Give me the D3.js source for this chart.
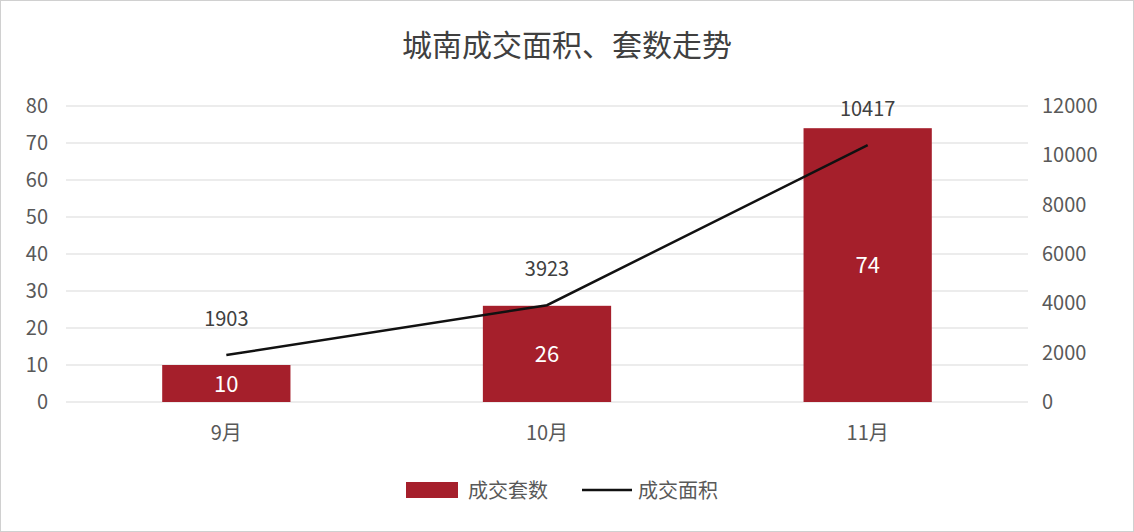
<!DOCTYPE html>
<html><head><meta charset="utf-8">
<script src="https://cdn.jsdelivr.net/npm/d3@7"></script>
<style>body{margin:0;background:#fff}text{font-family:"Noto Sans CJK SC","Noto Sans",sans-serif}</style>
</head><body><svg id="c" width="1134" height="532"></svg>
<script>
var months = ["9月", "10月", "11月"];
var counts = [10, 26, 74];
var areas = [1903, 3923, 10417];
var leftTicks = [0, 10, 20, 30, 40, 50, 60, 70, 80];
var rightTicks = [0, 2000, 4000, 6000, 8000, 10000, 12000];

var svg = d3.select("#c");
svg.append("rect").attr("x", 0.5).attr("y", 0.5).attr("width", 1133).attr("height", 531)
  .attr("fill", "#fff").attr("stroke", "#d0d0d0");

var x = d3.scaleBand().domain(months).range([66, 1028]).paddingInner(0.6).paddingOuter(0.3);
var yL = d3.scaleLinear().domain([0, 80]).range([402, 106]);
var yR = d3.scaleLinear().domain([0, 12000]).range([402, 106]);
var bar = "#a51f2b", txt = "#595959";

svg.append("text").attr("x", 567).attr("y", 56).attr("text-anchor", "middle")
  .attr("font-size", 30).attr("fill", "#404040").text("城南成交面积、套数走势");

svg.selectAll(".g").data(leftTicks).enter().append("line")
  .attr("x1", 66).attr("x2", 1028).attr("y1", yL).attr("y2", yL)
  .attr("stroke", "#d9d9d9");
svg.selectAll(".lt").data(leftTicks).enter().append("text")
  .attr("x", 48).attr("y", function(d){return yL(d) + 7;}).attr("text-anchor", "end")
  .attr("font-size", 20).attr("fill", txt).text(String);
svg.selectAll(".rt").data(rightTicks).enter().append("text")
  .attr("x", 1042).attr("y", function(d){return yR(d) + 7;})
  .attr("font-size", 20).attr("fill", txt).text(String);

svg.selectAll(".b").data(counts).enter().append("rect")
  .attr("x", function(d, i){return x(months[i]);}).attr("width", x.bandwidth())
  .attr("y", yL).attr("height", function(d){return yL(0) - yL(d);}).attr("fill", bar);
svg.selectAll(".bl").data(counts).enter().append("text")
  .attr("x", function(d, i){return x(months[i]) + x.bandwidth() / 2;})
  .attr("y", function(d){return (yL(d) + yL(0)) / 2 + 8;})
  .attr("text-anchor", "middle").attr("font-size", 22).attr("fill", "#fff").text(String);

svg.selectAll(".m").data(months).enter().append("text")
  .attr("x", function(d){return x(d) + x.bandwidth() / 2;}).attr("y", 440)
  .attr("text-anchor", "middle").attr("font-size", 20).attr("fill", txt).text(String);

var line = d3.line().x(function(d, i){return x(months[i]) + x.bandwidth() / 2;}).y(yR);
svg.append("path").datum(areas).attr("d", line).attr("fill", "none")
  .attr("stroke", "#111").attr("stroke-width", 2.5);
svg.selectAll(".al").data(areas).enter().append("text")
  .attr("x", function(d, i){return x(months[i]) + x.bandwidth() / 2;})
  .attr("y", function(d){return yR(d) - 29;})
  .attr("text-anchor", "middle").attr("font-size", 20).attr("fill", "#404040").text(String);

var lg = svg.append("g").attr("transform", "translate(406,490)");
lg.append("rect").attr("x", 0).attr("y", -8).attr("width", 52).attr("height", 16).attr("fill", bar);
lg.append("text").attr("x", 62).attr("y", 8).attr("font-size", 20).attr("fill", txt).text("成交套数");
lg.append("line").attr("x1", 176).attr("x2", 226).attr("y1", 0).attr("y2", 0).attr("stroke", "#111").attr("stroke-width", 2.5);
lg.append("text").attr("x", 232).attr("y", 8).attr("font-size", 20).attr("fill", txt).text("成交面积");
</script></body></html>
